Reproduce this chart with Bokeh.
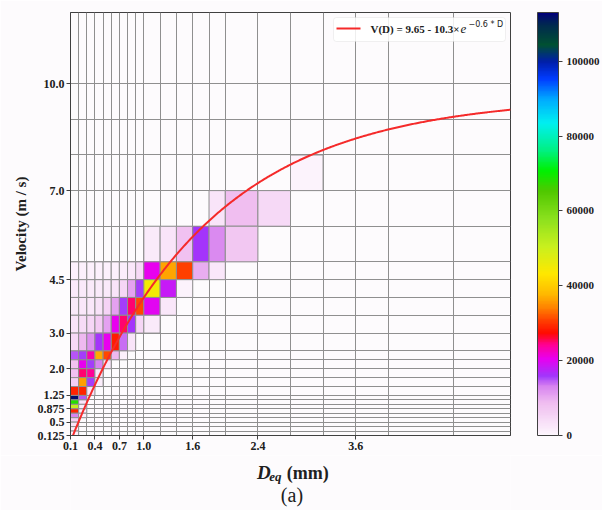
import numpy as np
from bokeh.plotting import figure
from bokeh.layouts import column
from bokeh.models import (Range1d, FixedTicker, LinearColorMapper, ColorBar, Label,
                          BoxAnnotation, Arrow, ColumnDataSource, PrintfTickFormatter)
from bokeh.embed import file_html
from bokeh.resources import INLINE

# ---------------- data ----------------
x_edges = [0.1, 0.2, 0.3, 0.4, 0.5, 0.6, 0.7, 0.8, 0.9, 1.0, 1.2, 1.4, 1.6, 1.8, 2.0,
           2.4, 2.8, 3.2, 3.6, 4.0, 4.8, 5.6]
y_edges = [0.125, 0.25, 0.375, 0.5, 0.625, 0.75, 0.875, 1.0, 1.125, 1.25, 1.5, 1.75,
           2.0, 2.25, 2.5, 3.0, 3.5, 4.0, 4.5, 5.0, 6.0, 7.0, 8.0, 9.0, 10.0, 12.0]
x_ticks = [0.1, 0.4, 0.7, 1.0, 1.6, 2.4, 3.6]
x_tick_labels = ["0.1", "0.4", "0.7", "1.0", "1.6", "2.4", "3.6"]
y_ticks = [0.125, 0.5, 0.875, 1.25, 2.0, 3.0, 4.5, 7.0, 10.0]
y_tick_labels = ["0.125", "0.5", "0.875", "1.25", "2.0", "3.0", "4.5", "7.0", "10.0"]
cbar_ticks = [0, 20000, 40000, 60000, 80000, 100000]
count_max = 113000

# histogram cells: diameter bin index, velocity bin index, count
cell_d_bin = [16,
              13, 14, 15,
              9, 10, 11, 12, 13, 14,
              0, 1, 2, 3, 4, 5, 6, 7, 8, 9, 10, 11, 12, 13,
              0, 1, 2, 3, 4, 5, 6, 7, 8, 9, 10, 11,
              0, 1, 2, 3, 4, 5, 6, 7, 8, 9, 10,
              0, 1, 2, 3, 4, 5, 6, 7, 8, 9,
              0, 1, 2, 3, 4, 5, 6, 7,
              0, 1, 2, 3, 4, 5, 6,
              0, 1, 2, 3, 4,
              0, 1, 2, 3,
              0, 1, 2, 3,
              0, 1, 2,
              0, 1,
              0, 1,
              0, 1,
              0, 1,
              0, 1,
              0, 0, 0, 0]
cell_v_bin = [21,
              20, 20, 20,
              19, 19, 19, 19, 19, 19,
              18, 18, 18, 18, 18, 18, 18, 18, 18, 18, 18, 18, 18, 18,
              17, 17, 17, 17, 17, 17, 17, 17, 17, 17, 17, 17,
              16, 16, 16, 16, 16, 16, 16, 16, 16, 16, 16,
              15, 15, 15, 15, 15, 15, 15, 15, 15, 15,
              14, 14, 14, 14, 14, 14, 14, 14,
              13, 13, 13, 13, 13, 13, 13,
              12, 12, 12, 12, 12,
              11, 11, 11, 11,
              10, 10, 10, 10,
              9, 9, 9,
              8, 8,
              7, 7,
              6, 6,
              5, 5,
              4, 4,
              3, 2, 1, 0]
cell_count = [600,
              3000, 8500, 4500,
              1800, 3000, 8000, 16000, 12500, 7500,
              1200, 1200, 1200, 1200, 1200, 1300, 1500, 2500, 4500, 20500, 36500, 30500, 10000, 2500,
              1800, 1800, 1800, 1800, 2000, 3000, 5000, 11000, 15500, 45000, 18500, 500,
              2000, 2500, 2500, 3500, 5500, 11000, 15500, 25000, 31000, 20000, 2500,
              3000, 4000, 5000, 7000, 11000, 20500, 25000, 16000, 5000, 2000,
              4500, 9000, 12000, 16000, 20500, 28500, 14000, 3000,
              15000, 15500, 23000, 37000, 31000, 9000, 1000,
              8000, 20500, 15500, 13000, 3000,
              8000, 25000, 24000, 3000,
              6000, 36000, 15500, 1500,
              29000, 29000, 3000,
              112000, 15000,
              68000, 3000,
              51000, 1500,
              29000, 1500,
              13000, 1000,
              6000, 3000, 1500, 1000]

fit_a, fit_b, fit_c = 9.65, 10.3, 0.6

# ---------------- colour map (white -> pink -> magenta -> red -> yellow -> green -> cyan -> blue -> navy)
cmap_anchors = [(0.000, (253, 246, 253)), (0.075, (240, 190, 240)), (0.115, (215, 130, 240)),
                (0.139, (160, 55, 252)), (0.180, (232, 0, 240)), (0.212, (255, 0, 150)),
                (0.241, (255, 10, 0)), (0.269, (255, 60, 0)), (0.301, (255, 130, 0)),
                (0.334, (255, 185, 0)), (0.382, (255, 232, 0)), (0.447, (200, 240, 30)),
                (0.512, (140, 225, 30)), (0.577, (80, 200, 0)), (0.626, (0, 240, 0)),
                (0.674, (0, 240, 130)), (0.739, (0, 240, 240)), (0.796, (0, 170, 255)),
                (0.844, (0, 60, 255)), (0.885, (0, 30, 170)), (0.925, (0, 80, 50)),
                (0.974, (0, 40, 80)), (1.000, (0, 0, 120))]
_ts = np.array([a[0] for a in cmap_anchors])
_rgb = np.array([a[1] for a in cmap_anchors], dtype=float)
_grid = np.linspace(0, 1, 256)
palette = []
for t in _grid:
    r = np.interp(t, _ts, _rgb[:, 0]); g = np.interp(t, _ts, _rgb[:, 1]); b = np.interp(t, _ts, _rgb[:, 2])
    palette.append("#%02x%02x%02x" % (int(round(r)), int(round(g)), int(round(b))))

mapper = LinearColorMapper(palette=palette, low=0, high=count_max)

BG = "#fdfbfd"
SERIF = "Liberation Serif"
TXT = "#202020"

p = figure(width=602, height=455, x_range=Range1d(0.1, 5.5), y_range=Range1d(0.125, 12.0),
           output_backend="svg", toolbar_location=None,
           min_border_left=70, min_border_right=90, min_border_top=12, min_border_bottom=20)
p.background_fill_color = BG
p.border_fill_color = BG
p.outline_line_color = "#404040"
p.outline_line_width = 1

# grid at the bin edges
p.xgrid.ticker = FixedTicker(ticks=x_edges)
p.ygrid.ticker = FixedTicker(ticks=y_edges)
for g in (p.xgrid, p.ygrid):
    g.grid_line_color = "#8f8f8f"
    g.grid_line_width = 1

# cells
src = ColumnDataSource(dict(
    left=[x_edges[i] for i in cell_d_bin],
    right=[x_edges[i + 1] for i in cell_d_bin],
    bottom=[y_edges[j] for j in cell_v_bin],
    top=[y_edges[j + 1] for j in cell_v_bin],
    count=cell_count))
p.quad(left="left", right="right", bottom="bottom", top="top", source=src,
       fill_color={"field": "count", "transform": mapper}, line_color="#8f8f8f", line_width=1)

# fitted curve
xs = np.linspace(0.1, 5.5, 400)
p.line(xs, fit_a - fit_b * np.exp(-fit_c * xs), line_color="#f52a2a", line_width=2)

# axes
p.xaxis.ticker = FixedTicker(ticks=x_ticks)
p.xaxis.major_label_overrides = {t: s for t, s in zip(x_ticks, x_tick_labels)}
p.yaxis.ticker = FixedTicker(ticks=y_ticks)
p.yaxis.major_label_overrides = {t: s for t, s in zip(y_ticks, y_tick_labels)}
for ax in (p.xaxis[0], p.yaxis[0]):
    ax.major_label_text_font = SERIF
    ax.major_label_text_font_style = "bold"
    ax.major_label_text_font_size = "12px"
    ax.major_label_text_color = TXT
    ax.major_tick_in = 0
    ax.major_tick_out = 4
    ax.major_tick_line_color = "#404040"
    ax.minor_tick_line_color = None
    ax.axis_line_color = "#404040"
    ax.major_label_standoff = 2
p.yaxis.axis_label = "Velocity (m / s)"
p.yaxis.axis_label_text_font = SERIF
p.yaxis.axis_label_text_font_style = "bold"
p.yaxis.axis_label_text_font_size = "15px"
p.yaxis.axis_label_text_color = TXT
p.yaxis.axis_label_standoff = 6

# legend
p.add_layout(BoxAnnotation(left=263, right=435, top=418, bottom=394,
                           left_units="screen", right_units="screen",
                           top_units="screen", bottom_units="screen",
                           fill_color="white", fill_alpha=0.85, line_color="#d0d0d0",
                           line_width=1, border_radius=3, level="annotation"))
p.add_layout(Arrow(x_start=266, y_start=407, x_end=290, y_end=407,
                   start_units="screen", end_units="screen", start=None, end=None,
                   line_color="#f52a2a", line_width=2))
p.add_layout(Label(x=300, y=407, x_units="screen", y_units="screen", text="V(D) = 9.65 - 10.3×",
                   text_font=SERIF, text_font_style="bold", text_font_size="11px",
                   text_color=TXT, text_baseline="middle"))
p.add_layout(Label(x=390, y=407, x_units="screen", y_units="screen", text="e",
                   text_font=SERIF, text_font_style="italic", text_font_size="13px",
                   text_color=TXT, text_baseline="middle"))
p.add_layout(Label(x=398, y=411, x_units="screen", y_units="screen", text="−0.6 * D",
                   text_font="DejaVu Sans", text_font_size="8px",
                   text_color=TXT, text_baseline="middle"))

# colour bar
cb = ColorBar(color_mapper=mapper, ticker=FixedTicker(ticks=cbar_ticks),
              formatter=PrintfTickFormatter(format="%d"),
              width=21, height=423, location=(27, 0), padding=0, margin=0,
              bar_line_color="#404040", major_tick_line_color="#404040",
              major_tick_in=0, major_tick_out=4, minor_tick_line_color=None,
              major_label_text_font=SERIF, major_label_text_font_style="bold",
              major_label_text_font_size="11px", major_label_text_color=TXT,
              label_standoff=4, background_fill_color=None, border_line_color=None)
p.add_layout(cb, "right")

# caption strip below: x-axis label and panel letter (pixel-like coordinates)
cap = figure(width=602, height=55, x_range=Range1d(0, 602), y_range=Range1d(0, 55),
             output_backend="svg", toolbar_location=None, x_axis_type=None, y_axis_type=None,
             min_border=0)
cap.background_fill_color = BG
cap.border_fill_color = BG
cap.outline_line_color = None
cap.grid.visible = False
cap.add_layout(Label(x=255, y=38, text="D", text_font=SERIF, text_font_style="bold italic",
                     text_font_size="19px", text_color=TXT, text_baseline="alphabetic"))
cap.add_layout(Label(x=272, y=34, text="eq", text_font=SERIF, text_font_style="bold italic",
                     text_font_size="13px", text_color=TXT, text_baseline="alphabetic"))
cap.add_layout(Label(x=296, y=38, text="(mm)", text_font=SERIF, text_font_style="bold",
                     text_font_size="18px", text_color=TXT, text_baseline="alphabetic"))
cap.add_layout(Label(x=303, y=16, text="(a)", text_font=SERIF, text_font_size="20px",
                     text_color=TXT, text_align="center", text_baseline="alphabetic"))

layout = column(p, cap, spacing=0)
open("out.html", "w").write(file_html(layout, INLINE))
